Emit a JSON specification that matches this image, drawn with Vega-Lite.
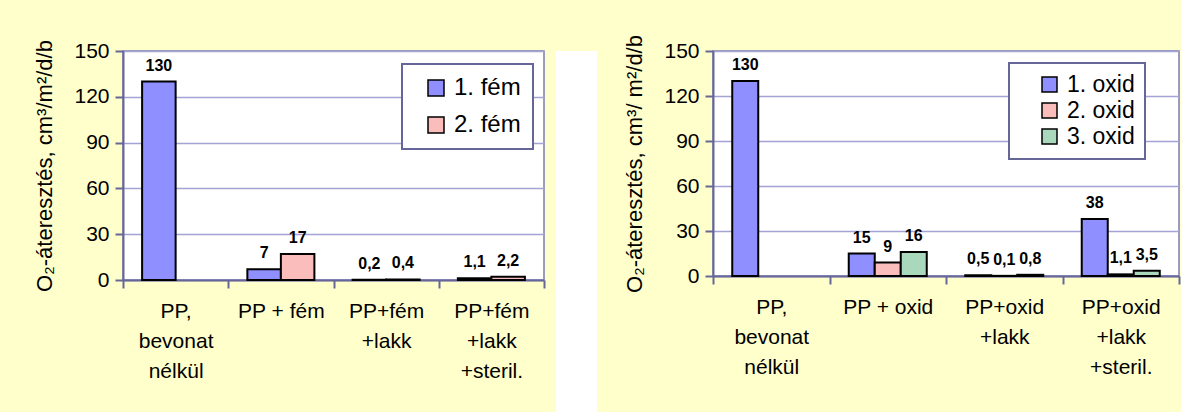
{
  "$schema": "https://vega.github.io/schema/vega-lite/v6.json",
  "background": "#ffffcc",
  "padding": {"left": 33, "top": 33, "right": 0, "bottom": 0},
  "config": {
    "locale": {"number": {"decimal": ",", "thousands": " ", "grouping": [3], "currency": ["", ""]}},
    "font": "Liberation Sans",
    "view": {"fill": "white", "stroke": "#7b7bb0", "strokeWidth": 1.5},
    "axis": {
      "domainColor": "#666699", "domainWidth": 2,
      "tickColor": "#666699", "tickWidth": 2, "tickSize": 8,
      "labelColor": "black", "labelFontSize": 21, "labelFont": "Liberation Sans",
      "titleColor": "black", "titleFontSize": 22, "titleFontWeight": "normal", "titleFont": "Liberation Sans",
      "gridColor": "#a3a3d6", "gridWidth": 1.5
    },
    "axisX": {"grid": false, "labelAngle": 0, "labelPadding": 12, "labelLineHeight": 30, "tickBand": "extent", "title": null, "labelExpr": "split(datum.label, '|')"},
    "axisY": {"labelPadding": 6, "titlePadding": 17},
    "legend": {"title": null, "fillColor": "white", "strokeColor": "#666699", "strokeWidth": 2, "symbolType": "square", "symbolStrokeColor": "black", "symbolStrokeWidth": 1.5, "labelFont": "Liberation Sans", "labelOffset": 6, "orient": "none", "labelExpr": "datum.label + '\u00a0'"}
  },
  "bounds": "flush",
  "spacing": 12,
  "resolve": {"scale": {"color": "independent", "xOffset": "independent", "x": "independent", "y": "independent"}, "legend": {"color": "independent"}},
  "hconcat": [
    {
      "width": 421, "height": 229,
      "data": {"values": [
        {"cat": "PP,|bevonat|nélkül", "series": "1. fém", "value": 130},
        {"cat": "PP + fém", "series": "1. fém", "value": 7},
        {"cat": "PP + fém", "series": "2. fém", "value": 17},
        {"cat": "PP+fém|+lakk", "series": "1. fém", "value": 0.2},
        {"cat": "PP+fém|+lakk", "series": "2. fém", "value": 0.4},
        {"cat": "PP+fém|+lakk|+steril.", "series": "1. fém", "value": 1.1},
        {"cat": "PP+fém|+lakk|+steril.", "series": "2. fém", "value": 2.2}
      ]},
      "encoding": {
        "x": {"field": "cat", "type": "nominal", "sort": null, "scale": {"paddingInner": 0, "paddingOuter": 0}},
        "xOffset": {"field": "series", "type": "nominal", "scale": {"paddingInner": 0, "paddingOuter": 0.57}},
        "y": {"field": "value", "type": "quantitative", "scale": {"domain": [0, 150], "nice": false},
              "axis": {"values": [0, 30, 60, 90, 120, 150], "title": "O₂-áteresztés, cm³/m²/d/b"}}
      },
      "layer": [
        {"mark": {"type": "bar", "stroke": "black", "strokeWidth": 2},
         "encoding": {"color": {"field": "series", "type": "nominal",
           "scale": {"range": ["#8f8fff", "#fbbcbc"]},
           "legend": {"legendX": 279, "legendY": 13, "symbolSize": 256, "rowPadding": 13, "padding": 12, "symbolOffset": 10, "labelFontSize": 24}}}},
        {"mark": {"type": "text", "dy": -8, "fontWeight": "bold", "fontSize": 16, "baseline": "bottom", "color": "black"},
         "encoding": {"text": {"field": "value", "type": "quantitative", "format": ".3~r"}}}
      ]
    },
    {
      "bounds": "flush",
      "spacing": 116,
      "resolve": {"scale": {"color": "independent", "xOffset": "independent", "x": "independent", "y": "independent"}, "legend": {"color": "independent"}},
      "hconcat": [
        {"width": 41, "height": 362, "data": {"values": [{}]}, "mark": {"type": "text", "text": ""}, "encoding": {}, "view": {"fill": "white", "stroke": null}},
        {
          "width": 466, "height": 225,
          "data": {"values": [
            {"cat": "PP,|bevonat|nélkül", "series": "1. oxid", "value": 130},
            {"cat": "PP + oxid", "series": "1. oxid", "value": 15},
            {"cat": "PP + oxid", "series": "2. oxid", "value": 9},
            {"cat": "PP + oxid", "series": "3. oxid", "value": 16},
            {"cat": "PP+oxid|+lakk", "series": "1. oxid", "value": 0.5},
            {"cat": "PP+oxid|+lakk", "series": "2. oxid", "value": 0.1},
            {"cat": "PP+oxid|+lakk", "series": "3. oxid", "value": 0.8},
            {"cat": "PP+oxid|+lakk|+steril.", "series": "1. oxid", "value": 38},
            {"cat": "PP+oxid|+lakk|+steril.", "series": "2. oxid", "value": 1.1},
            {"cat": "PP+oxid|+lakk|+steril.", "series": "3. oxid", "value": 3.5}
          ]},
          "encoding": {
            "x": {"field": "cat", "type": "nominal", "sort": null, "scale": {"paddingInner": 0, "paddingOuter": 0}},
            "xOffset": {"field": "series", "type": "nominal", "scale": {"paddingInner": 0, "paddingOuter": 0.74}},
            "y": {"field": "value", "type": "quantitative", "scale": {"domain": [0, 150], "nice": false},
                  "axis": {"values": [0, 30, 60, 90, 120, 150], "title": "O₂-áteresztés, cm³/ m²/d/b"}}
          },
          "layer": [
            {"mark": {"type": "bar", "stroke": "black", "strokeWidth": 2},
             "encoding": {"color": {"field": "series", "type": "nominal",
               "scale": {"range": ["#8f8fff", "#fbbcbc", "#a9d8bd"]},
               "legend": {"legendX": 296, "legendY": 12, "symbolSize": 225, "rowPadding": 2, "padding": 10, "symbolOffset": 19, "labelFontSize": 23, "labelExpr": "datum.label + '\u00a0\u00a0'"}}}},
            {"mark": {"type": "text", "dy": -8, "fontWeight": "bold", "fontSize": 16, "baseline": "bottom", "color": "black"},
             "encoding": {"text": {"field": "value", "type": "quantitative", "format": ".3~r"}}}
          ]
        }
      ]
    }
  ]
}
